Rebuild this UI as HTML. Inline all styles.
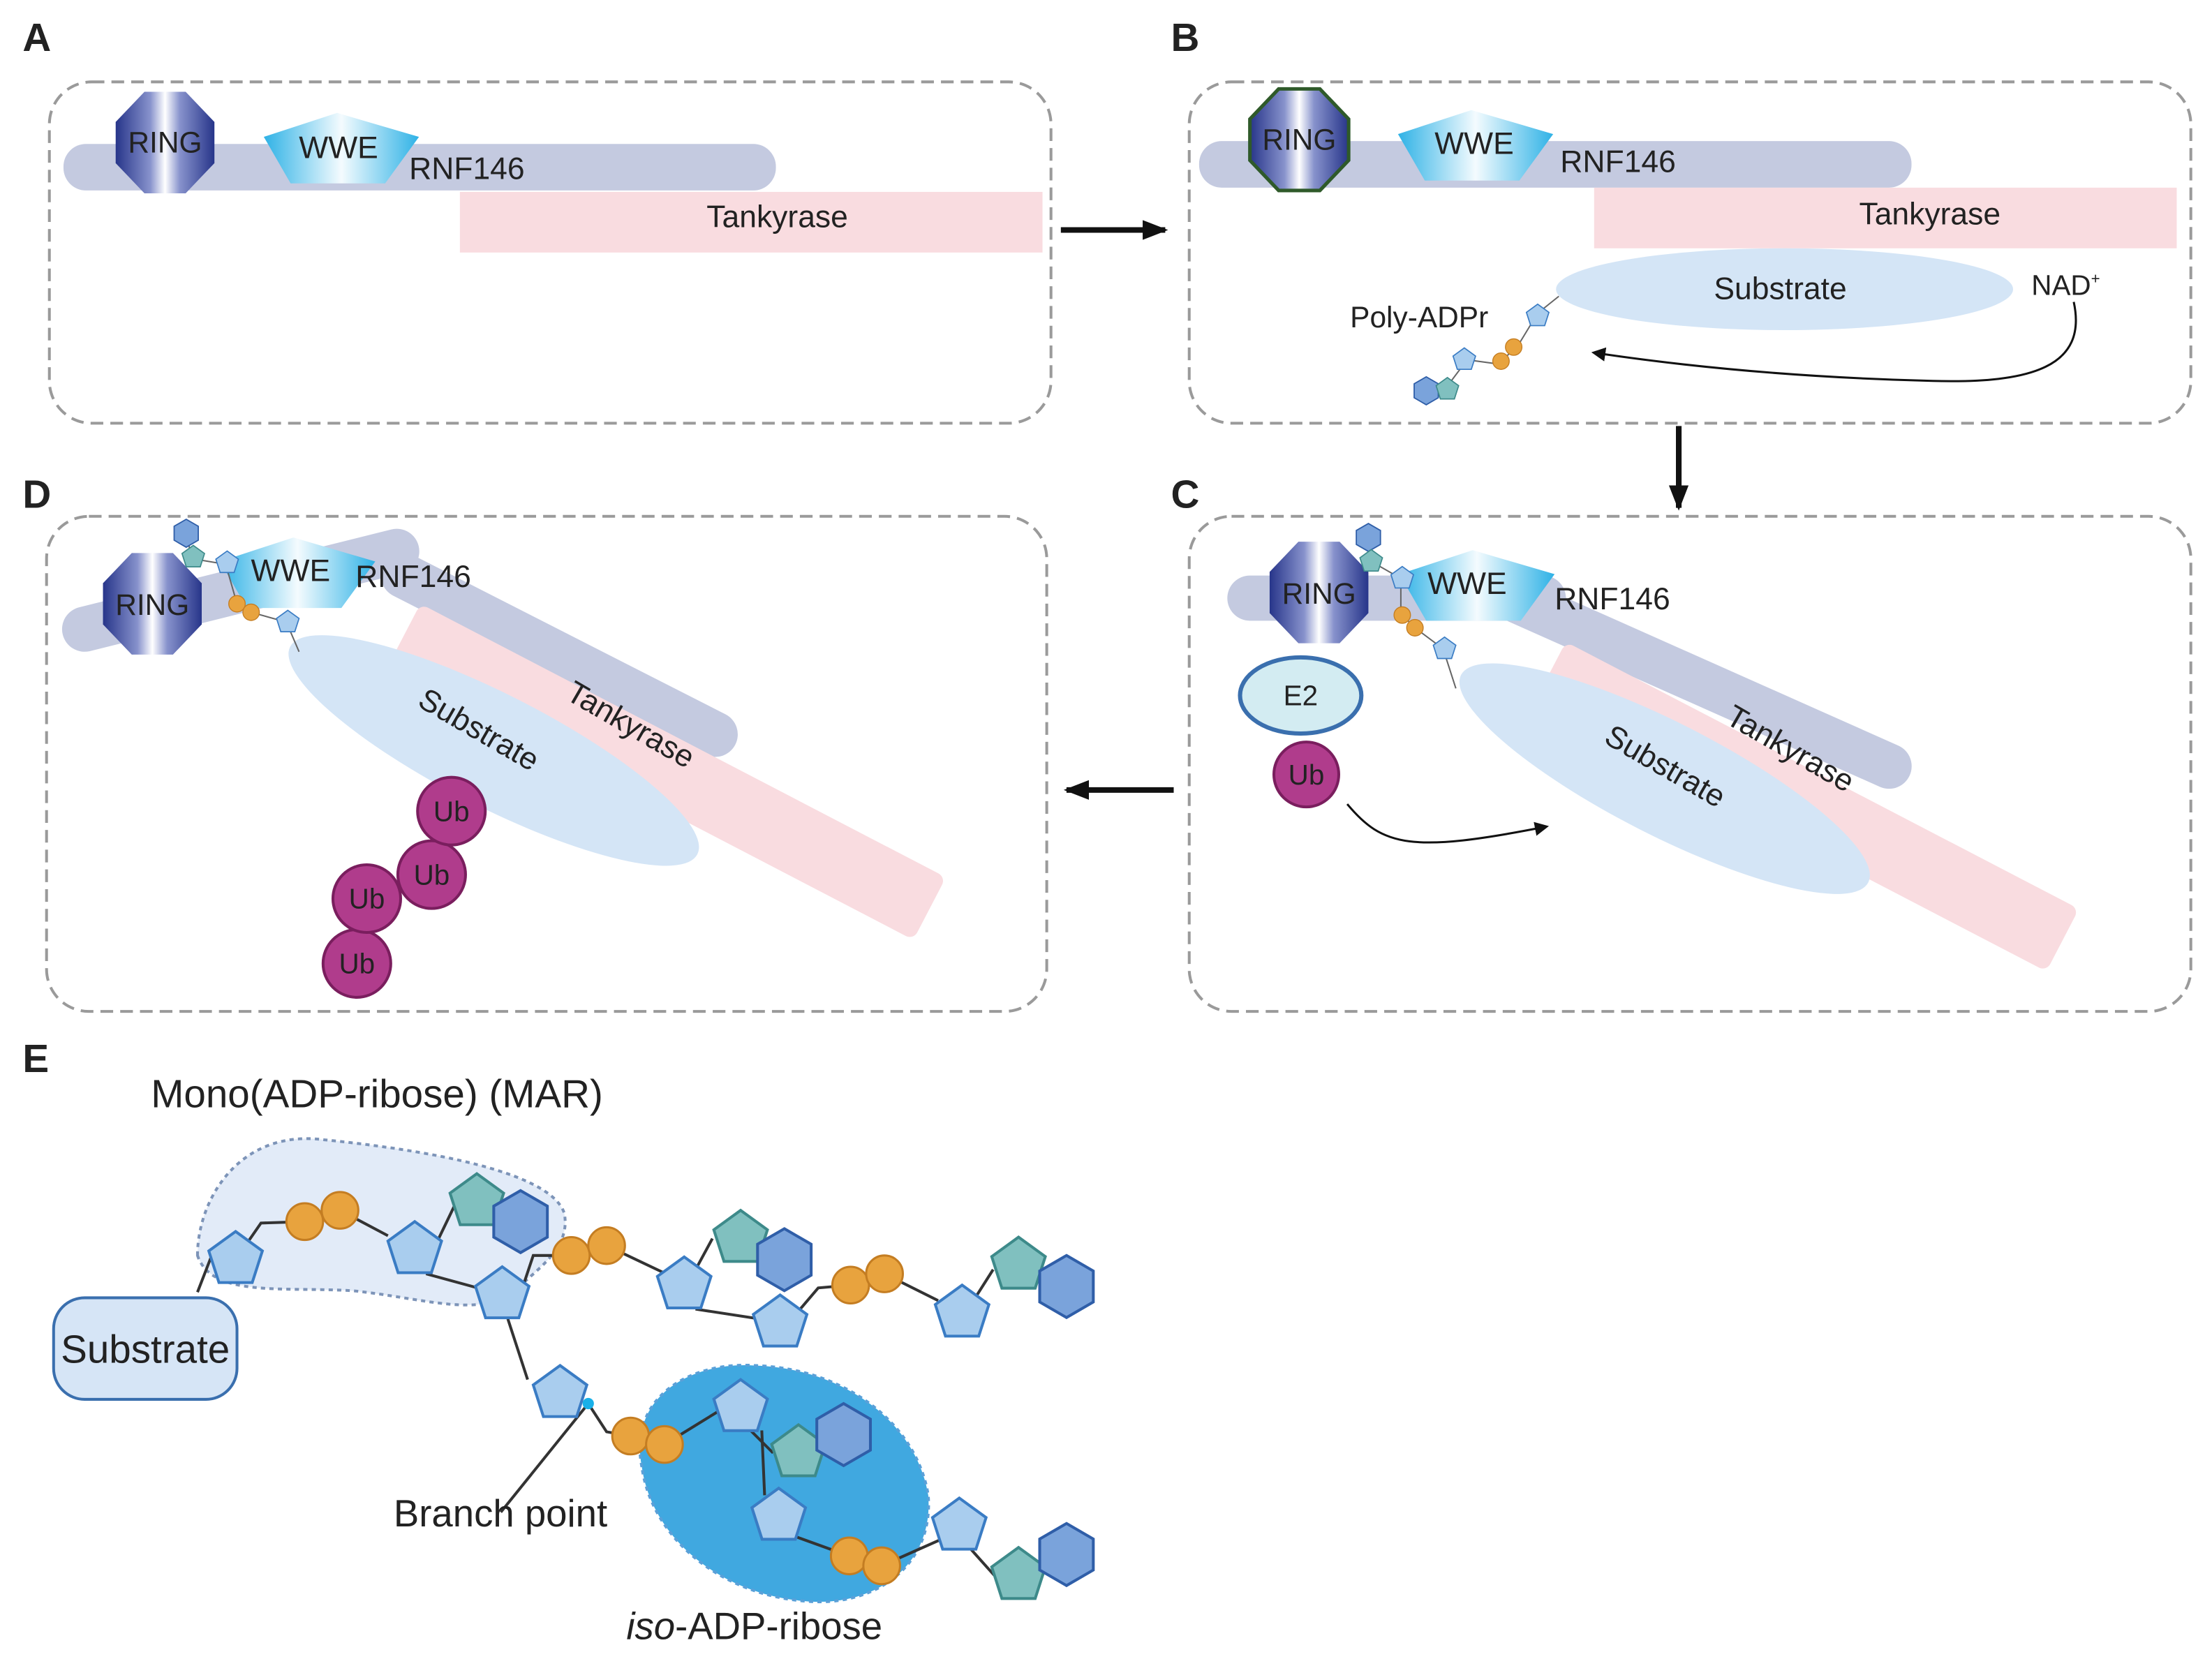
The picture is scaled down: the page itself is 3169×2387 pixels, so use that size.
<!DOCTYPE html>
<html><head><meta charset="utf-8"><style>html,body{margin:0;padding:0;background:#fff}svg{display:block}text{font-family:"Liberation Sans",sans-serif;fill:#222}</style></head>
<body>
<svg width="3169" height="2387" viewBox="0 0 1568 1181" xmlns="http://www.w3.org/2000/svg">
<defs>
<linearGradient id="rg" x1="0" x2="1" y1="0" y2="0"><stop offset="0" stop-color="#27358a"/><stop offset=".35" stop-color="#8792cc"/><stop offset=".5" stop-color="#fff"/><stop offset=".65" stop-color="#8792cc"/><stop offset="1" stop-color="#27358a"/></linearGradient>
<linearGradient id="wg" x1="0" x2="1" y1="0" y2="0"><stop offset="0" stop-color="#2fb2e6"/><stop offset=".5" stop-color="#f4fbfe"/><stop offset="1" stop-color="#2fb2e6"/></linearGradient>
<polygon id="pen" points="0,-20 19,-6.2 11.8,16.2 -11.8,16.2 -19,-6.2" fill="#a9cdee" stroke="#3a7cc4" stroke-width="2"/>
<polygon id="tpen" points="0,-20 19,-6.2 11.8,16.2 -11.8,16.2 -19,-6.2" fill="#80c0bf" stroke="#3d8a8a" stroke-width="2"/>
<polygon id="hex" points="0,-22 19,-11 19,11 0,22 -19,11 -19,-11" fill="#7aa3db" stroke="#2f5ea8" stroke-width="2"/>
<circle id="oc" r="13" fill="#e8a33e" stroke="#c47d22" stroke-width="1.5"/>
<polygon id="oct" points="35,14.6 14.6,36 -14.6,36 -35,14.6 -35,-14.6 -14.6,-36 14.6,-36 35,-14.6" fill="url(#rg)"/>
<polygon id="wwe" points="-54,-4 -2,-21 56,-4 32,29 -35,29" fill="url(#wg)"/>
<marker id="ah" markerWidth="10" markerHeight="10" refX="8" refY="5" orient="auto" markerUnits="userSpaceOnUse"><path d="M0,0 L10,5 L0,10 z" fill="#111"/></marker>
<marker id="ah2" markerWidth="18" markerHeight="14" refX="16" refY="7" orient="auto" markerUnits="userSpaceOnUse"><path d="M0,0 L18,7 L0,14 z" fill="#111"/></marker>
</defs>

<g font-weight="bold" font-size="28"><text x="16" y="36">A</text><text x="830" y="36">B</text><text x="16" y="360">D</text><text x="830" y="360">C</text><text x="16" y="760">E</text></g>

<g fill="none" stroke="#9a9a9a" stroke-width="2" stroke-dasharray="9 5">
<rect x="35" y="58" width="710" height="242" rx="30"/>
<rect x="843" y="58" width="710" height="242" rx="30"/>
<rect x="33" y="366" width="709" height="351" rx="30"/>
<rect x="843" y="366" width="710" height="351" rx="30"/>
</g>

<g stroke="#111" stroke-width="4">
<line x1="752" y1="163" x2="826" y2="163" marker-end="url(#ah2)"/>
<line x1="1190" y1="302" x2="1190" y2="360" marker-end="url(#ah2)"/>
<line x1="832" y1="560" x2="756" y2="560" marker-end="url(#ah2)"/>
</g>

<!-- Panel A -->
<rect x="45" y="102" width="505" height="33" rx="16" fill="#c4cae0"/>
<rect x="326" y="136" width="413" height="43" fill="#f9dce0"/>
<text x="551" y="161" font-size="22" text-anchor="middle">Tankyrase</text>
<text x="290" y="127" font-size="22">RNF146</text>
<use href="#oct" x="117" y="101"/>
<text x="117" y="108" font-size="21" text-anchor="middle">RING</text>
<use href="#wwe" x="241" y="101"/>
<text x="240" y="112" font-size="22" text-anchor="middle">WWE</text>

<!-- Panel B -->
<rect x="850" y="100" width="505" height="33" rx="16" fill="#c4cae0"/>
<rect x="1130" y="133" width="413" height="43" fill="#f9dce0"/>
<text x="1368" y="159" font-size="22" text-anchor="middle">Tankyrase</text>
<text x="1106" y="122" font-size="22">RNF146</text>
<use href="#oct" x="921" y="99"/>
<polygon points="956,113.6 935.6,135 906.4,135 886,113.6 886,84.4 906.4,63 935.6,63 956,84.4" fill="none" stroke="#2f5a2a" stroke-width="2.5"/>
<text x="921" y="106" font-size="21" text-anchor="middle">RING</text>
<use href="#wwe" x="1045" y="99"/>
<text x="1045" y="109" font-size="22" text-anchor="middle">WWE</text>
<ellipse cx="1265" cy="205" rx="162" ry="29" fill="#d4e5f6"/>
<text x="1262" y="212" font-size="22" text-anchor="middle">Substrate</text>
<text x="1440" y="209" font-size="20">NAD<tspan font-size="11" dy="-8">+</tspan></text>
<path d="M1470,214 C1480,260 1440,272 1370,270 C1290,268 1210,262 1130,250" fill="none" stroke="#111" stroke-width="1.5" marker-end="url(#ah)"/>
<text x="957" y="232" font-size="21">Poly-ADPr</text>
<g stroke="#666" stroke-width="1" fill="none"><path d="M1105,210 L1090,222 L1076,245 L1062,258 L1040,255 L1025,275"/></g>
<g transform="translate(1090,224) scale(.42)"><use href="#pen"/></g>
<g transform="translate(1073,246) scale(.45)"><use href="#oc"/></g>
<g transform="translate(1064,256) scale(.45)"><use href="#oc"/></g>
<g transform="translate(1038,255) scale(.42)"><use href="#pen"/></g>
<g transform="translate(1011,277) scale(.45)"><use href="#hex"/></g>
<g transform="translate(1026,276) scale(.42)"><use href="#tpen"/></g>

<!-- Panel C -->
<rect x="870" y="408" width="240" height="32" rx="16" fill="#c4cae0"/>
<rect x="1060" y="410" width="320" height="32" rx="16" fill="#c4cae0" transform="rotate(24 1076 426)"/>
<rect x="1110" y="455" width="410" height="50" rx="6" fill="#f9dce0" transform="rotate(27.5 1110 455)"/>
<ellipse cx="1180" cy="552" rx="162" ry="40" fill="#d4e5f6" transform="rotate(27 1180 552)"/>
<text font-size="22" transform="translate(1136,526) rotate(30)">Substrate</text>
<text font-size="22" transform="translate(1222,512) rotate(30)">Tankyrase</text>
<use href="#oct" x="935" y="420"/>
<text x="935" y="428" font-size="21" text-anchor="middle">RING</text>
<use href="#wwe" x="1046" y="411"/>
<text x="1040" y="421" font-size="22" text-anchor="middle">WWE</text>
<text x="1102" y="432" font-size="22">RNF146</text>
<g stroke="#666" stroke-width="1" fill="none"><path d="M972,382 L972,398 L993,410 L993,435 L1003,445 L1023,460 L1032,488"/></g>
<g transform="translate(970,381) scale(.45)"><use href="#hex"/></g>
<g transform="translate(972,398) scale(.42)"><use href="#tpen"/></g>
<g transform="translate(994,410) scale(.42)"><use href="#pen"/></g>
<g transform="translate(994,436) scale(.45)"><use href="#oc"/></g>
<g transform="translate(1003,445) scale(.45)"><use href="#oc"/></g>
<g transform="translate(1024,460) scale(.42)"><use href="#pen"/></g>
<ellipse cx="922" cy="493" rx="43" ry="27" fill="#d3ecf2" stroke="#3a6fae" stroke-width="3"/>
<text x="922" y="500" font-size="20" text-anchor="middle">E2</text>
<circle cx="926" cy="549" r="23" fill="#b03c8c" stroke="#7a1e5e" stroke-width="2"/>
<text x="926" y="556" font-size="20" text-anchor="middle">Ub</text>
<path d="M955,570 C980,600 1000,605 1096,586" fill="none" stroke="#111" stroke-width="1.5" marker-end="url(#ah)"/>

<!-- Panel D -->
<rect x="44" y="430" width="260" height="32" rx="16" fill="#c4cae0" transform="rotate(-14 60 446)"/>
<rect x="270" y="392" width="280" height="32" rx="16" fill="#c4cae0" transform="rotate(27 286 408)"/>
<rect x="298" y="428" width="420" height="50" rx="6" fill="#f9dce0" transform="rotate(27.5 298 428)"/>
<ellipse cx="350" cy="532" rx="162" ry="40" fill="#d4e5f6" transform="rotate(27 350 532)"/>
<text font-size="22" transform="translate(295,500) rotate(30)">Substrate</text>
<text font-size="22" transform="translate(400,495) rotate(30)">Tankyrase</text>
<use href="#oct" x="108" y="428"/>
<text x="108" y="436" font-size="21" text-anchor="middle">RING</text>
<use href="#wwe" x="210" y="402"/>
<text x="206" y="412" font-size="22" text-anchor="middle">WWE</text>
<text x="252" y="416" font-size="22">RNF146</text>
<g stroke="#666" stroke-width="1" fill="none"><path d="M132,378 L136,396 L160,400 L168,428 L178,434 L203,441 L212,462"/></g>
<g transform="translate(132,378) scale(.45)"><use href="#hex"/></g>
<g transform="translate(137,395) scale(.42)"><use href="#tpen"/></g>
<g transform="translate(161,399) scale(.42)"><use href="#pen"/></g>
<g transform="translate(168,428) scale(.45)"><use href="#oc"/></g>
<g transform="translate(178,434) scale(.45)"><use href="#oc"/></g>
<g transform="translate(204,441) scale(.42)"><use href="#pen"/></g>
<g fill="#b03c8c" stroke="#7a1e5e" stroke-width="2">
<circle cx="253" cy="683" r="24"/><circle cx="260" cy="637" r="24"/><circle cx="306" cy="620" r="24"/><circle cx="320" cy="575" r="24"/></g>
<g font-size="20" text-anchor="middle"><text x="253" y="690">Ub</text><text x="260" y="644">Ub</text><text x="306" y="627">Ub</text><text x="320" y="582">Ub</text></g>

<!-- Panel E -->
<text x="107" y="785" font-size="28">Mono(ADP-ribose) (MAR)</text>
<path d="M140,890 C140,850 170,800 230,808 C300,815 390,830 400,860 C405,885 380,900 365,915 C340,935 300,920 250,915 C200,912 150,920 140,890 Z" fill="#e2ebf8" stroke="#7d94b8" stroke-width="2" stroke-dasharray="3 3"/>
<path d="M455,1040 C445,990 490,965 535,968 C600,970 650,1010 658,1060 C662,1110 620,1140 570,1135 C510,1130 462,1090 455,1040 Z" fill="#40a8e0" stroke="#5aa0d8" stroke-width="2" stroke-dasharray="3 3"/>
<rect x="38" y="920" width="130" height="72" rx="22" fill="#d6e5f6" stroke="#3a6fae" stroke-width="2"/>
<text x="103" y="966" font-size="28" text-anchor="middle">Substrate</text>
<g stroke="#333" stroke-width="2" fill="none">
<path d="M140,916 L152,885"/>
<path d="M176,880 L185,867 L216,866"/>
<path d="M241,858 L275,876"/>
<path d="M302,903 L357,918"/>
<path d="M310,880 L322,855"/>
<path d="M368,920 L378,890 L405,890"/>
<path d="M430,883 L470,902"/>
<path d="M493,928 L545,936"/>
<path d="M492,902 L505,878"/>
<path d="M563,933 L580,913 L603,911"/>
<path d="M627,903 L665,922"/>
<path d="M690,922 L704,900"/>
<path d="M360,935 L374,978"/>
<path d="M417,995 L430,1015 L447,1018"/>
<path d="M471,1024 L510,1000"/>
<path d="M530,1012 L548,1030"/>
<path d="M540,1014 L542,1060"/>
<path d="M552,1085 L588,1098 L602,1103"/>
<path d="M625,1110 L670,1090"/>
<path d="M688,1098 L705,1117"/>
<path d="M355,1072 L417,995"/>
</g>
<use href="#pen" x="167" y="893"/>
<use href="#oc" x="216" y="866"/><use href="#oc" x="241" y="858"/>
<use href="#pen" x="294" y="886"/>
<use href="#tpen" x="338" y="852"/><use href="#hex" x="369" y="866"/>
<use href="#pen" x="356" y="918"/>
<use href="#oc" x="405" y="890"/><use href="#oc" x="430" y="883"/>
<use href="#pen" x="485" y="911"/>
<use href="#tpen" x="525" y="878"/><use href="#hex" x="556" y="893"/>
<use href="#pen" x="553" y="938"/>
<use href="#oc" x="603" y="911"/><use href="#oc" x="627" y="903"/>
<use href="#pen" x="682" y="931"/>
<use href="#tpen" x="722" y="897"/><use href="#hex" x="756" y="912"/>
<use href="#pen" x="397" y="988"/>
<circle cx="417" cy="995" r="4" fill="#19b0e8"/>
<use href="#oc" x="447" y="1018"/><use href="#oc" x="471" y="1024"/>
<use href="#pen" x="525" y="998"/>
<use href="#tpen" x="566" y="1030"/><use href="#hex" x="598" y="1017"/>
<use href="#pen" x="552" y="1075"/>
<use href="#oc" x="602" y="1103"/><use href="#oc" x="625" y="1110"/>
<use href="#pen" x="680" y="1082"/>
<use href="#tpen" x="722" y="1117"/><use href="#hex" x="756" y="1102"/>
<text x="279" y="1082" font-size="27">Branch point</text>
<text x="444" y="1162" font-size="27"><tspan font-style="italic">iso</tspan>-ADP-ribose</text>
</svg>
</body></html>
